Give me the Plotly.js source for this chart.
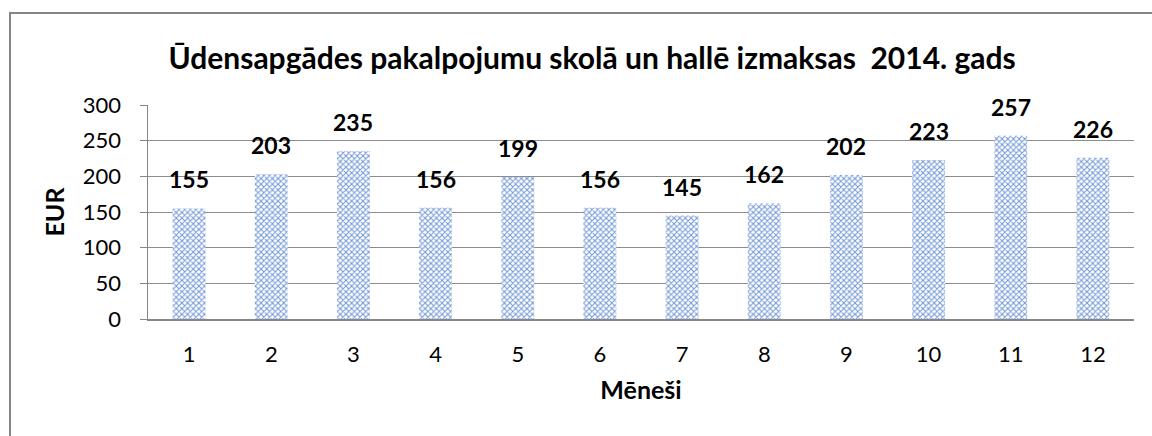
<!DOCTYPE html>
<html>
<head>
<meta charset="utf-8">
<script src="https://cdn.plot.ly/plotly-3.0.1.min.js"></script>
<style>
  html, body { margin: 0; padding: 0; background: #ffffff; }
  #wrap { position: relative; width: 1152px; height: 436px; overflow: hidden; }
  #chart { position: absolute; left: 0; top: 0; width: 1152px; height: 436px; }
  #frame { position: absolute; left: 9px; top: 12px; width: 1200px; height: 500px;
           border: 2px solid #868686; box-sizing: border-box; pointer-events: none; }
</style>
</head>
<body>
<div id="wrap">
  <div id="chart"></div>
  <div id="frame"></div>
</div>
<script>
const months = ['1','2','3','4','5','6','7','8','9','10','11','12'];
const costs = [155, 203, 235, 156, 199, 156, 145, 162, 202, 223, 257, 226];
const yTicks = [0, 50, 100, 150, 200, 250, 300];

const chartTitle = 'Ūdensapgādes pakalpojumu skolā un hallē izmaksas  2014. gads';
const xTitle = 'Mēneši';
const yTitle = 'EUR';

const FONT = 'Lato, "Open Sans", sans-serif';

const trace = {
  type: 'bar',
  x: months,
  y: costs,
  marker: {
    color: '#ffffff',
    line: { width: 0 },
    pattern: { shape: 'x', fgcolor: '#7398d6', bgcolor: '#ffffff', size: 4, solidity: 0.45 }
  },
  hoverinfo: 'skip'
};

const annotations = months.map((m, i) => ({
  x: i, y: costs[i], xref: 'x', yref: 'y',
  text: String(costs[i]),
  showarrow: false, yanchor: 'bottom', yshift: 13,
  font: { family: FONT, size: 23, color: '#000000', weight: 'bold' }
}));

const layout = {
  width: 1152, height: 436,
  margin: { l: 148, r: 18, t: 105, b: 117, pad: 0 },
  paper_bgcolor: 'rgba(0,0,0,0)',
  plot_bgcolor: '#ffffff',
  showlegend: false,
  bargap: 0.6,
  title: {
    text: chartTitle,
    xref: 'container', yref: 'container',
    x: 0.514, xanchor: 'center',
    y: 1 - 58 / 436, yanchor: 'middle',
    font: { family: FONT, size: 30, color: '#000000', weight: 'bold' }
  },
  xaxis: {
    type: 'category',
    showgrid: false,
    showline: true, linecolor: '#868686', linewidth: 1.5,
    ticks: '',
    ticklabelstandoff: 15,
    tickfont: { family: FONT, size: 22, color: '#000000' },
    title: { text: xTitle, standoff: 15, font: { family: FONT, size: 25, color: '#000000', weight: 'bold' } },
    fixedrange: true
  },
  yaxis: {
    range: [0, 300],
    tickvals: yTicks,
    showgrid: true, gridcolor: '#8c8c8c', gridwidth: 1,
    zeroline: false,
    showline: true, linecolor: '#868686', linewidth: 1.5,
    ticks: 'outside', ticklen: 7, tickcolor: '#868686', tickwidth: 1,
    ticklabelstandoff: 14,
    tickfont: { family: FONT, size: 22, color: '#000000' },
    title: { text: yTitle, standoff: 11, font: { family: FONT, size: 25, color: '#000000', weight: 'bold' } },
    fixedrange: true
  },
  annotations: annotations
};

Plotly.newPlot('chart', [trace], layout, { displayModeBar: false, staticPlot: true });
</script>
</body>
</html>
